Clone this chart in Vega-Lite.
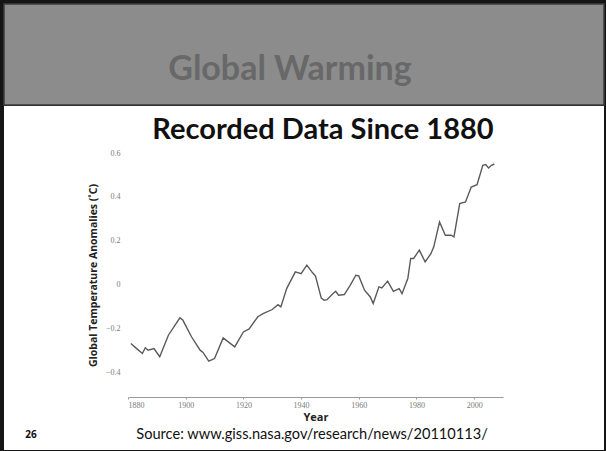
{
  "$schema": "https://vega.github.io/schema/vega-lite/v6.json",
  "background": "#151515",
  "padding": 3,
  "spacing": 0,
  "config": {"view": {"stroke": null}},
  "vconcat": [
    {
      "width": 600,
      "height": 101,
      "view": {"fill": "#8c8c8c", "stroke": "#3c3c3c", "strokeWidth": 1.5},
      "data": {"values": [{"t": "Global Warming"}]},
      "mark": {"type": "text", "font": "Lato", "fontWeight": "bold", "fontSize": 34, "color": "#686868", "baseline": "middle", "align": "center", "dy": 15, "dx": -14},
      "encoding": {"text": {"field": "t"}}
    },
    {
      "width": 600,
      "height": 344,
      "view": {"fill": "#ffffff", "stroke": null},
      "layer": [
        {
          "data": {"values": [
            {"year": 1881, "anomaly": -0.267},
            {"year": 1883, "anomaly": -0.29},
            {"year": 1885, "anomaly": -0.312},
            {"year": 1886, "anomaly": -0.286},
            {"year": 1887, "anomaly": -0.297},
            {"year": 1889, "anomaly": -0.29},
            {"year": 1891, "anomaly": -0.327},
            {"year": 1894, "anomaly": -0.229},
            {"year": 1898, "anomaly": -0.15},
            {"year": 1899, "anomaly": -0.16},
            {"year": 1902, "anomaly": -0.236},
            {"year": 1905, "anomaly": -0.297},
            {"year": 1906, "anomaly": -0.307},
            {"year": 1908, "anomaly": -0.347},
            {"year": 1910, "anomaly": -0.335},
            {"year": 1913, "anomaly": -0.241},
            {"year": 1917, "anomaly": -0.282},
            {"year": 1920, "anomaly": -0.214},
            {"year": 1922, "anomaly": -0.2},
            {"year": 1925, "anomaly": -0.145},
            {"year": 1927, "anomaly": -0.13},
            {"year": 1930, "anomaly": -0.112},
            {"year": 1932, "anomaly": -0.09},
            {"year": 1933, "anomaly": -0.1},
            {"year": 1935, "anomaly": -0.017},
            {"year": 1938, "anomaly": 0.059},
            {"year": 1940, "anomaly": 0.051},
            {"year": 1942, "anomaly": 0.09},
            {"year": 1944, "anomaly": 0.055},
            {"year": 1945, "anomaly": 0.04},
            {"year": 1946, "anomaly": -0.01},
            {"year": 1947, "anomaly": -0.06},
            {"year": 1948, "anomaly": -0.07},
            {"year": 1949, "anomaly": -0.067},
            {"year": 1951, "anomaly": -0.04},
            {"year": 1952, "anomaly": -0.029},
            {"year": 1953, "anomaly": -0.047},
            {"year": 1955, "anomaly": -0.044},
            {"year": 1957, "anomaly": -0.002},
            {"year": 1959, "anomaly": 0.044},
            {"year": 1960, "anomaly": 0.041},
            {"year": 1962, "anomaly": -0.024},
            {"year": 1964, "anomaly": -0.055},
            {"year": 1965, "anomaly": -0.085},
            {"year": 1967, "anomaly": -0.009},
            {"year": 1968, "anomaly": -0.014},
            {"year": 1970, "anomaly": 0.017},
            {"year": 1972, "anomaly": -0.029},
            {"year": 1974, "anomaly": -0.017},
            {"year": 1975, "anomaly": -0.04},
            {"year": 1977, "anomaly": 0.029},
            {"year": 1978, "anomaly": 0.12},
            {"year": 1979, "anomaly": 0.12},
            {"year": 1981, "anomaly": 0.158},
            {"year": 1983, "anomaly": 0.105},
            {"year": 1985, "anomaly": 0.142},
            {"year": 1986, "anomaly": 0.173},
            {"year": 1988, "anomaly": 0.286},
            {"year": 1990, "anomaly": 0.226},
            {"year": 1992, "anomaly": 0.226},
            {"year": 1993, "anomaly": 0.218},
            {"year": 1995, "anomaly": 0.37},
            {"year": 1997, "anomaly": 0.377},
            {"year": 1999, "anomaly": 0.445},
            {"year": 2001, "anomaly": 0.456},
            {"year": 2003, "anomaly": 0.544},
            {"year": 2004, "anomaly": 0.547},
            {"year": 2005, "anomaly": 0.532},
            {"year": 2006, "anomaly": 0.544},
            {"year": 2007, "anomaly": 0.55}
          ]},
          "mark": {"type": "line", "color": "#5a5a5a", "strokeWidth": 1.4},
          "encoding": {
            "x": {
              "field": "year", "type": "quantitative",
              "scale": {"domain": [1880, 2010], "range": [124, 499], "nice": false, "zero": false},
              "axis": {
                "values": [1880, 1900, 1920, 1940, 1960, 1980, 2000],
                "format": "d", "grid": false, "offset": -53,
                "labelFont": "Liberation Serif", "labelFontSize": 8, "labelColor": "#7a7a7a", "labelPadding": 2,
                "domainColor": "#9a9a9a", "domainWidth": 1,
                "ticks": true, "tickSize": 2, "tickColor": "#9a9a9a",
                "title": "Year", "titleFont": "Open Sans", "titleFontWeight": "bold", "titleFontSize": 11, "titleColor": "#222222", "titlePadding": 2
              }
            },
            "y": {
              "field": "anomaly", "type": "quantitative",
              "scale": {"domain": [-0.51, 0.6], "range": [291, 47], "nice": false, "zero": false},
              "axis": {
                "values": [-0.4, -0.2, 0, 0.2, 0.4, 0.6],
                "labelExpr": "datum.value == 0 ? '0' : format(datum.value, '.1f')",
                "grid": false, "domain": false, "ticks": false, "offset": -116,
                "labelFont": "Liberation Serif", "labelFontSize": 8, "labelColor": "#7a7a7a", "labelPadding": 0,
                "title": "Global Temperature Anomalies (˚C)", "titleFont": "Open Sans", "titleFontWeight": "bold", "titleFontSize": 10.5, "titleColor": "#222222", "titlePadding": 7
              }
            }
          }
        },
        {
          "data": {"values": [{"t": "Recorded Data Since 1880"}]},
          "mark": {"type": "text", "font": "Lato", "fontWeight": "bold", "fontSize": 29, "color": "#111111", "align": "center", "baseline": "middle"},
          "encoding": {
            "x": {"datum": 1947.6, "type": "quantitative"},
            "y": {"datum": 0.705, "type": "quantitative"},
            "text": {"field": "t"}
          }
        },
        {
          "data": {"values": [{"t": "Source: www.giss.nasa.gov/research/news/20110113/"}]},
          "mark": {"type": "text", "font": "Lato", "fontSize": 14.6, "color": "#111111", "align": "center", "baseline": "middle"},
          "encoding": {
            "x": {"datum": 1943.8, "type": "quantitative"},
            "y": {"datum": -0.683, "type": "quantitative"},
            "text": {"field": "t"}
          }
        },
        {
          "data": {"values": [{"t": "26"}]},
          "mark": {"type": "text", "font": "Open Sans", "fontWeight": "bold", "fontSize": 10, "color": "#111111", "align": "center", "baseline": "middle"},
          "encoding": {
            "x": {"datum": 1846.4, "type": "quantitative"},
            "y": {"datum": -0.683, "type": "quantitative"},
            "text": {"field": "t"}
          }
        }
      ]
    }
  ]
}
